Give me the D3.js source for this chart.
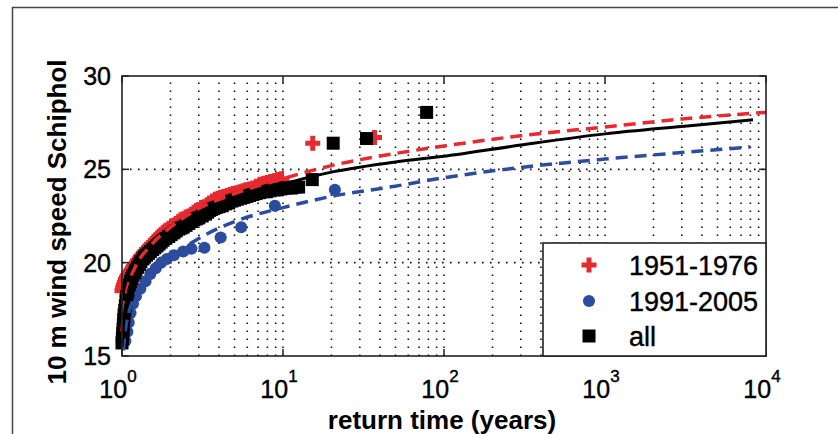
<!DOCTYPE html>
<html><head><meta charset="utf-8">
<script src="https://cdn.jsdelivr.net/npm/d3@7/dist/d3.min.js"></script>
<style>body{margin:0;background:#fff}svg{display:block}text{font-family:"Liberation Sans",Arial,sans-serif}</style>
</head><body>
<script>
// ---- data ----
const xTickValues = [1, 10, 100, 1000, 10000];
const xTickExponents = ["0", "1", "2", "3", "4"];
const yTickValues = [15, 20, 25, 30];
const seriesNames = ["1951-1976", "1991-2005", "all"];

// 1951-1976 (red plus markers)
const redT = [1.0,1.01,1.02,1.035,1.05,1.065,1.08,1.1,1.12,1.14,1.16,1.18,1.2,1.23,1.25,1.28,1.3,1.33,1.36,1.39,1.42,1.46,1.5,1.54,1.58,1.62,1.66,1.7,1.75,1.8,1.85,1.9,1.96,2.03,2.1,2.17,2.25,2.32,2.4,2.5,2.6,2.7,2.8,2.9,3.0,3.12,3.25,3.38,3.5,3.65,3.8,3.95,4.1,4.3,4.5,4.7,4.9,5.15,5.4,5.65,5.9,6.2,6.5,6.85,7.2,7.6,8.0,8.4,8.9,9.3,9.8,15.3,37];
const redV = [18.5,18.65,18.8,18.95,19.1,19.2,19.3,19.4,19.5,19.6,19.7,19.8,19.9,20.0,20.1,20.2,20.3,20.4,20.5,20.6,20.7,20.8,20.9,21.0,21.1,21.2,21.3,21.4,21.5,21.6,21.7,21.75,21.85,21.95,22.0,22.1,22.2,22.3,22.35,22.45,22.5,22.6,22.7,22.8,22.85,22.95,23.0,23.1,23.2,23.3,23.4,23.45,23.5,23.55,23.6,23.65,23.7,23.75,23.8,23.85,23.9,23.95,24.0,24.1,24.2,24.25,24.3,24.35,24.4,24.45,24.5,26.4,26.7];
// 1991-2005 (blue dots)
const blueT = [1.05,1.08,1.1,1.13,1.17,1.22,1.3,1.4,1.5,1.62,1.75,1.9,2.1,2.4,2.7,3.25,4.1,5.5,8.9,21];
const blueV = [15.8,16.3,16.8,17.3,17.8,18.2,18.6,19.0,19.4,19.7,20.0,20.2,20.4,20.6,20.75,20.8,21.35,21.9,23.05,23.9];
// all (black squares)
const allT = [1.0,1.005,1.01,1.015,1.02,1.025,1.03,1.04,1.05,1.06,1.07,1.085,1.1,1.115,1.13,1.15,1.17,1.2,1.22,1.25,1.28,1.31,1.35,1.38,1.42,1.46,1.5,1.55,1.6,1.65,1.7,1.75,1.8,1.87,1.95,2.02,2.1,2.17,2.25,2.32,2.4,2.5,2.6,2.7,2.8,2.9,3.0,3.15,3.3,3.4,3.5,3.6,3.7,3.85,4.0,4.2,4.4,4.6,4.8,5.0,5.2,5.45,5.7,5.95,6.2,6.5,6.8,7.15,7.5,7.9,8.3,8.75,9.2,9.7,10.2,10.7,11.3,11.9,12.5,15.2,20.5,33,78];
const allV = [15.7,15.95,16.2,16.45,16.7,16.95,17.2,17.45,17.7,17.95,18.2,18.4,18.6,18.8,19.0,19.15,19.3,19.45,19.6,19.75,19.9,20.05,20.2,20.3,20.4,20.5,20.6,20.7,20.8,20.9,21.0,21.1,21.2,21.3,21.4,21.5,21.6,21.7,21.8,21.85,21.9,22.0,22.1,22.2,22.3,22.35,22.4,22.5,22.6,22.7,22.8,22.85,22.9,22.95,23.0,23.05,23.15,23.2,23.3,23.35,23.4,23.45,23.5,23.55,23.6,23.65,23.7,23.75,23.8,23.8,23.85,23.9,23.9,23.95,24.0,24.0,24.0,24.05,24.05,24.45,26.4,26.65,28.05];

// fitted curves
const redFitT = [1.0,1.03,1.08,1.2,1.5,2,3,5,10,20,50,100,300,1000,3000,10000];
const redFitV = [16.3,17.6,18.6,19.7,20.9,21.9,22.9,23.7,24.5,25.2,25.85,26.25,26.8,27.27,27.7,28.05];
const blueFitT = [1.02,1.05,1.1,1.2,1.5,2,3,5,10,20,50,100,300,1000,3000,8000];
const blueFitV = [15.3,16.4,17.3,18.2,19.4,20.3,21.3,22.2,22.95,23.55,24.1,24.55,25.1,25.55,25.9,26.2];
const allFitT = [1.0,1.03,1.1,1.25,1.5,2,3,5,10,20,50,100,300,1000,3000,8300];
const allFitV = [15.5,17.0,18.5,19.6,20.5,21.4,22.4,23.3,24.2,24.85,25.4,25.7,26.3,26.9,27.3,27.65];

const red = "#e62a2f", blue = "#2d4c9e", black = "#000";

// ---- drawing ----
const W = 838, H = 434;
const svg = d3.select("body").append("svg").attr("width", W).attr("height", H);
const L = 122, R = 766, T = 76, B = 356;
const x = d3.scaleLog().domain([1, 1e4]).range([L, R]);
const y = d3.scaleLinear().domain([15, 30]).range([B, T]);

// outer frame
svg.append("path").attr("d", `M12.5,${H} V7.5 H${W}`).attr("fill", "none").attr("stroke", "#444").attr("stroke-width", 1.5);

// grid
const g = svg.append("g");
x.ticks().forEach(v => {
  if (v <= 1 || v >= 1e4) return;
  g.append("line").attr("x1", x(v)).attr("x2", x(v)).attr("y1", B).attr("y2", T)
    .attr("stroke", "#111").attr("stroke-width", 1.6).attr("stroke-dasharray", "1.6,6.4");
});
yTickValues.filter(v => v > 15 && v < 30).forEach(v => {
  g.append("line").attr("x1", L).attr("x2", R).attr("y1", y(v)).attr("y2", y(v))
    .attr("stroke", "#111").attr("stroke-width", 1.6).attr("stroke-dasharray", "1.6,6.4");
});

// markers
const plot = svg.append("g");
const crossPath = d3.symbol(d3.symbolCross, 125)();
const circlePath = d3.symbol(d3.symbolCircle, 115)();
const sq = 13;
plot.selectAll(".r").data(redT.map((t, i) => [t, redV[i]])).join("path")
  .attr("d", crossPath).attr("transform", d => `translate(${x(d[0])},${y(d[1])})`).attr("fill", red);
plot.selectAll(".b").data(blueT.map((t, i) => [t, blueV[i]])).join("path")
  .attr("d", circlePath).attr("transform", d => `translate(${x(d[0])},${y(d[1])})`).attr("fill", blue);
plot.selectAll(".k").data(allT.map((t, i) => [t, allV[i]])).join("rect")
  .attr("x", d => x(d[0]) - sq / 2).attr("y", d => y(d[1]) - sq / 2).attr("width", sq).attr("height", sq).attr("fill", black);

// fit lines
const line = d3.line().x(d => x(d[0])).y(d => y(d[1])).curve(d3.curveMonotoneX);
plot.append("path").datum(redFitT.map((t, i) => [t, redFitV[i]])).attr("d", line)
  .attr("fill", "none").attr("stroke", red).attr("stroke-width", 3.5).attr("stroke-dasharray", "12,7");
plot.append("path").datum(blueFitT.map((t, i) => [t, blueFitV[i]])).attr("d", line)
  .attr("fill", "none").attr("stroke", blue).attr("stroke-width", 3.5).attr("stroke-dasharray", "12,7");
plot.append("path").datum(allFitT.map((t, i) => [t, allFitV[i]])).attr("d", line)
  .attr("fill", "none").attr("stroke", black).attr("stroke-width", 3);

// axes box & ticks
svg.append("rect").attr("x", L).attr("y", T).attr("width", R - L).attr("height", B - T)
  .attr("fill", "none").attr("stroke", "#222").attr("stroke-width", 1.6);
xTickValues.forEach(v => {
  svg.append("line").attr("x1", x(v)).attr("x2", x(v)).attr("y1", B).attr("y2", B - 7).attr("stroke", "#222").attr("stroke-width", 1.5);
  svg.append("line").attr("x1", x(v)).attr("x2", x(v)).attr("y1", T).attr("y2", T + 7).attr("stroke", "#222").attr("stroke-width", 1.5);
});
yTickValues.forEach(v => {
  svg.append("line").attr("x1", L).attr("x2", L + 7).attr("y1", y(v)).attr("y2", y(v)).attr("stroke", "#222").attr("stroke-width", 1.5);
  svg.append("line").attr("x1", R).attr("x2", R - 7).attr("y1", y(v)).attr("y2", y(v)).attr("stroke", "#222").attr("stroke-width", 1.5);
});

// tick labels
xTickValues.forEach((v, i) => {
  const t = svg.append("text").attr("x", x(v) - 4).attr("y", 398).attr("text-anchor", "middle")
    .attr("font-size", 25).attr("fill", "#000").attr("stroke", "#000").attr("stroke-width", 0.4);
  t.append("tspan").text("10");
  t.append("tspan").attr("dy", -16).attr("font-size", 17).text(xTickExponents[i]);
});
yTickValues.forEach(v => {
  svg.append("text").attr("x", 111).attr("y", y(v)).attr("dy", "0.36em").attr("text-anchor", "end")
    .attr("font-size", 25).attr("fill", "#000").attr("stroke", "#000").attr("stroke-width", 0.4).text(v);
});

// axis labels
svg.append("text").attr("x", 442).attr("y", 429).attr("text-anchor", "middle")
  .attr("font-size", 26).attr("font-weight", "bold").text("return time (years)");
svg.append("text").attr("transform", "translate(66,222) rotate(-90)").attr("text-anchor", "middle")
  .attr("font-size", 26).attr("font-weight", "bold").text("10 m wind speed Schiphol");

// legend
const lg = svg.append("g");
lg.append("rect").attr("x", 543).attr("y", 243).attr("width", R - 543).attr("height", B - 243)
  .attr("fill", "#fff").attr("stroke", "#222").attr("stroke-width", 1.6);
const rowsY = [265, 301, 336];
lg.append("path").attr("d", crossPath).attr("transform", `translate(589,${rowsY[0]})`).attr("fill", red);
lg.append("path").attr("d", circlePath).attr("transform", `translate(589,${rowsY[1]})`).attr("fill", blue);
lg.append("rect").attr("x", 589 - sq / 2).attr("y", rowsY[2] - sq / 2).attr("width", sq).attr("height", sq).attr("fill", black);
seriesNames.forEach((n, i) => {
  lg.append("text").attr("x", 629).attr("y", rowsY[i]).attr("dy", "0.36em").attr("font-size", 27)
    .attr("fill", "#000").attr("stroke", "#000").attr("stroke-width", 0.4).text(n);
});
</script>
</body></html>
